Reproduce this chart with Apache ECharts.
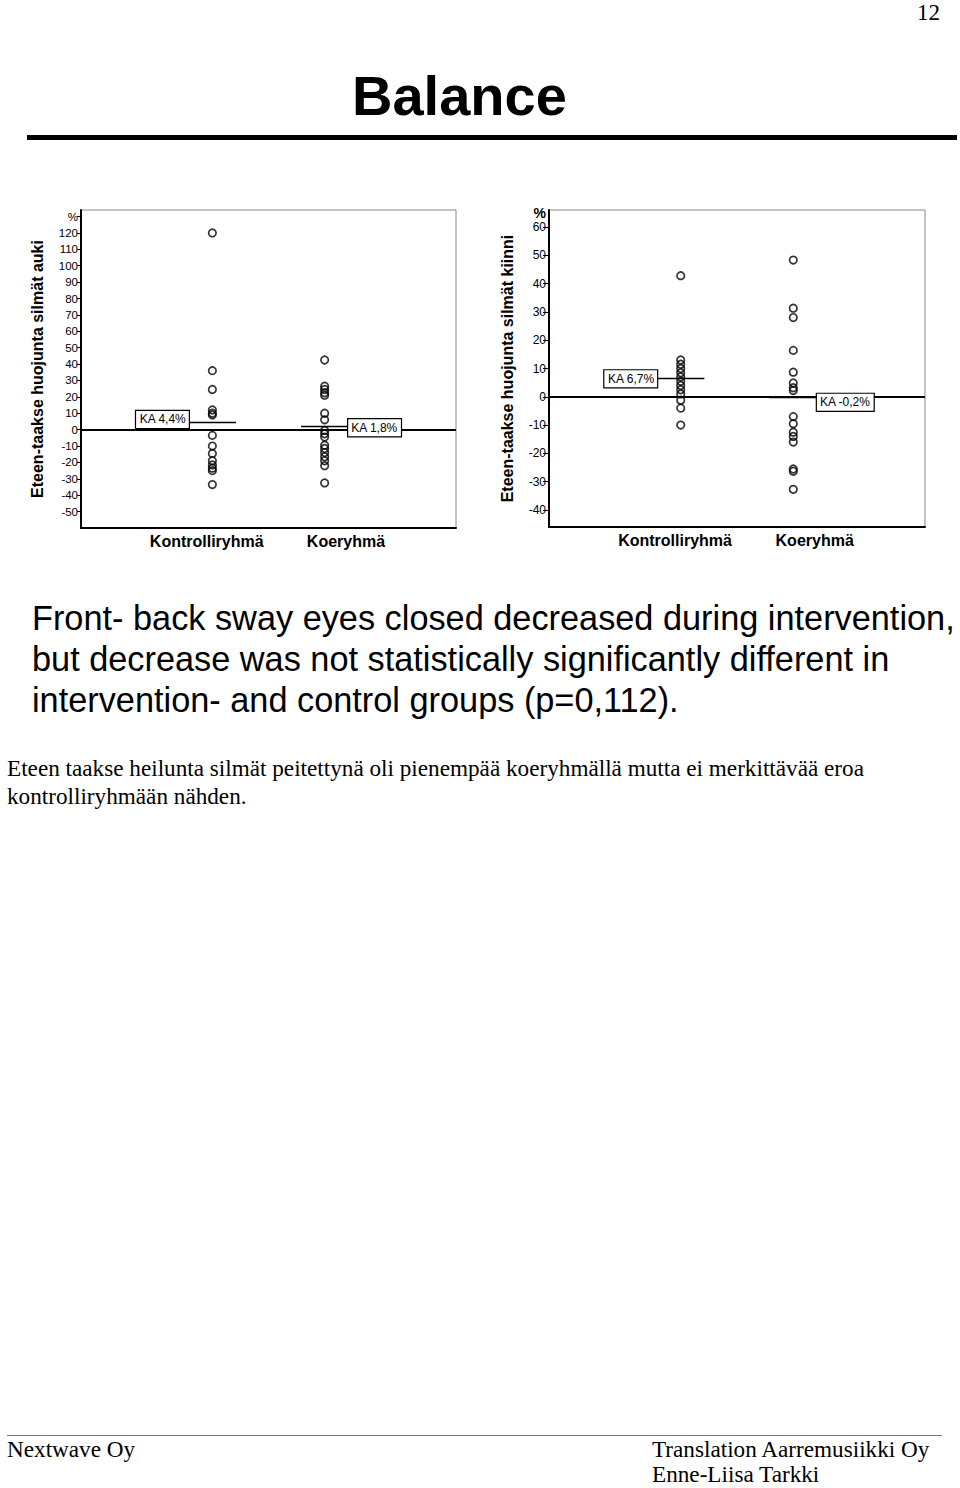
<!DOCTYPE html>
<html>
<head>
<meta charset="utf-8">
<title>Balance</title>
<script src="https://cdn.jsdelivr.net/npm/echarts@6/dist/echarts.min.js"></script>
<style>
  body { margin: 0; background: #fff; }
  #page { position: relative; width: 960px; height: 1488px; overflow: hidden; }
  .serif { font-family: "Liberation Serif", "Times New Roman", serif; color: #000; position: absolute; white-space: nowrap; }
  .sans { font-family: "Liberation Sans", Arial, sans-serif; color: #000; position: absolute; white-space: nowrap; }
  #sales_chart { position: absolute; left: 0; top: 180px; width: 960px; height: 390px; }
</style>
</head>
<body>
<div id="page">
  <div class="serif" style="right:20px; top:1px; font-size:23px; line-height:23px;">12</div>
  <div class="sans" style="left:352px; top:68px; font-size:56px; line-height:56px; font-weight:bold;">Balance</div>
  <div style="position:absolute; left:27px; top:135px; width:930px; height:5px; background:#000;"></div>

  <div id="sales_chart"></div>

  <div class="sans" style="left:32px; top:598px; font-size:34.3px; line-height:41px;">
    Front- back sway eyes closed decreased during intervention,<br>
    but decrease was not statistically significantly different in<br>
    intervention- and control groups (p=0,112).
  </div>

  <div class="serif" style="left:7px; top:754px; font-size:23.2px; line-height:28px;">
    Eteen taakse heilunta silmät peitettynä oli pienempää koeryhmällä mutta ei merkittävää eroa<br>
    kontrolliryhmään nähden.
  </div>

  <div style="position:absolute; left:7px; top:1435px; width:935px; height:1px; background:#777;"></div>
  <div class="serif" style="left:7px; top:1437px; font-size:23.2px; line-height:25px;">Nextwave Oy</div>
  <div class="serif" style="left:652px; top:1437px; font-size:23.2px; line-height:25px;">Translation Aarremusiikki Oy<br>Enne-Liisa Tarkki</div>
</div>

<script>
// ryhmät
var groups = ['Kontrolliryhmä', 'Koeryhmä'];

// Eteen-taakse huojunta, silmät auki (%)
var auki_kontrolli = [120, 36, 24.5, 12, 10, 9, -3.5, -10, -14.5, -19, -21.5, -23.5, -25, -33.5];
var auki_koe = [42.5, 26.5, 24.5, 22.5, 21, 10, 6, -0.5, -2.5, -4.5, -9.5, -11.5, -14, -16.5, -19, -22, -32.5];
var auki_ka = [4.4, 1.8];
var auki_ticks = [-50, -40, -30, -20, -10, 0, 10, 20, 30, 40, 50, 60, 70, 80, 90, 100, 110, 120];

// Eteen-taakse huojunta, silmät kiinni (%)
var kiinni_kontrolli = [42.8, 13, 11.5, 10, 8.5, 7, 5.5, 4, 2.5, 1, -1.2, -4, -10];
var kiinni_koe = [48.3, 31.3, 28, 16.4, 8.7, 4.9, 3.2, 2.2, -7, -9.5, -12.5, -14, -16, -25.5, -26.3, -32.7];
var kiinni_ka = [6.7, -0.2];
var kiinni_ticks = [-40, -30, -20, -10, 0, 10, 20, 30, 40, 50, 60];

var FONT = '"Liberation Sans", Arial, sans-serif';

window.onload = function(){
    sales_chart();
};

function points(values, x){
    return values.map(function(v){ return [x, v]; });
}

function ka_text(v){
    return 'KA ' + String(v).replace('.', ',') + '%';
}

function ka_line(x, value, pos, offset){
    return [
        {coord: [x - 0.21, value]},
        {coord: [x + 0.21, value],
         label: {
            show: true, position: pos, distance: 0, offset: offset,
            formatter: ka_text(value),
            fontFamily: FONT, fontSize: 12, color: '#000',
            backgroundColor: '#fff', borderColor: '#000', borderWidth: 1.2,
            padding: [3, 3, 2, 3]
         }}
    ];
}

function panel_series(i, ctrl, koe, ka, offsets){
    return {
        type: 'scatter',
        xAxisIndex: i, yAxisIndex: i,
        data: points(ctrl, 1).concat(points(koe, 2)),
        symbol: 'circle',
        symbolSize: 7.5,
        itemStyle: {color: 'rgba(0,0,0,0)', borderColor: '#000', borderWidth: 1.7},
        emphasis: {disabled: true},
        markLine: {
            silent: true,
            symbol: ['none', 'none'],
            lineStyle: {color: '#000', width: 1.3, type: 'solid'},
            emphasis: {disabled: true},
            data: [
                {yAxis: 0, lineStyle: {color: '#000', width: 2, type: 'solid'}, label: {show: false}},
                ka_line(1, ka[0], 'start', offsets[0]),
                ka_line(2, ka[1], 'end', offsets[1])
            ]
        }
    };
}

function x_axis(i){
    return {
        gridIndex: i, type: 'value', min: -0.17, max: 3.17,
        axisLine: {onZero: false, lineStyle: {color: '#000', width: 2}},
        axisTick: {show: false},
        splitLine: {show: false},
        axisLabel: {
            customValues: [0.95, 2.19],
            formatter: function(v){ return v < 1.5 ? groups[0] : groups[1]; },
            margin: 5, fontFamily: FONT, fontSize: 16, fontWeight: 'bold', color: '#000'
        }
    };
}

function sales_chart(){

        var chart = echarts.init(document.getElementById('sales_chart'), null, {renderer: 'svg'});

        var option = {
            animation: false,
            grid: [
                {left: 81, top: 30, width: 375, height: 318, show: true, borderColor: '#888', borderWidth: 1},
                {left: 549, top: 30, width: 376, height: 317, show: true, borderColor: '#888', borderWidth: 1}
            ],
            xAxis: [x_axis(0), x_axis(1)],
            yAxis: [{
                    gridIndex: 0, type: 'value', min: -60, max: 134,
                    name: 'Eteen-taakse huojunta silmät auki',
                    nameLocation: 'middle', nameRotate: 90, nameGap: 36,
                    nameTextStyle: {fontFamily: FONT, fontSize: 16, fontWeight: 'bold', color: '#000'},
                    axisLine: {show: true, onZero: false, lineStyle: {color: '#000', width: 2}},
                    axisTick: {show: true, length: 4, customValues: auki_ticks.concat([130]), lineStyle: {color: '#000'}},
                    axisLabel: {
                        customValues: auki_ticks.concat([130]),
                        margin: 3, fontFamily: FONT, fontSize: 11.5, color: '#000',
                        formatter: function(v){ return v === 130 ? '%' : String(v); }
                    },
                    splitLine: {show: false}
            },{
                    gridIndex: 1, type: 'value', min: -46, max: 66,
                    name: 'Eteen-taakse huojunta silmät kiinni',
                    nameLocation: 'middle', nameRotate: 90, nameGap: 34,
                    nameTextStyle: {fontFamily: FONT, fontSize: 16, fontWeight: 'bold', color: '#000'},
                    axisLine: {show: true, onZero: false, lineStyle: {color: '#000', width: 2}},
                    axisTick: {show: true, length: 6, customValues: kiinni_ticks, lineStyle: {color: '#000'}},
                    axisLabel: {
                        customValues: kiinni_ticks.concat([65]),
                        margin: 3, fontFamily: FONT, fontSize: 12, color: '#000',
                        formatter: function(v){ return v === 65 ? '{p|%}' : String(v); },
                        rich: {p: {fontFamily: FONT, fontSize: 14, fontWeight: 'bold', color: '#000'}}
                    },
                    splitLine: {show: false}
            }],
            series: [
                panel_series(0, auki_kontrolli, auki_koe, auki_ka, [[0, -3], [0, 1]]),
                panel_series(1, kiinni_kontrolli, kiinni_koe, kiinni_ka, [[0, 1], [0, 5]])
            ]
        };
        chart.setOption(option);
}
</script>
</body>
</html>
